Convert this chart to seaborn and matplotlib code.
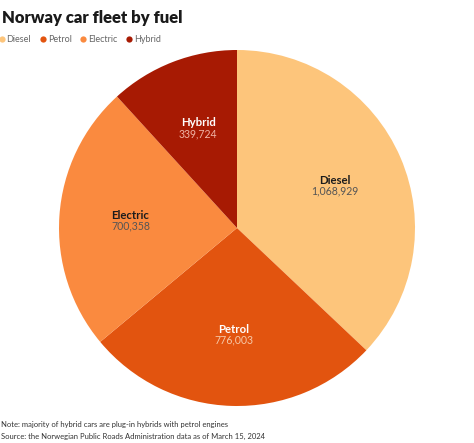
import matplotlib
matplotlib.use("Agg")
import matplotlib.pyplot as plt
from matplotlib.lines import Line2D
import seaborn as sns

categories = ["Diesel", "Petrol", "Electric", "Hybrid"]
values = [1068929, 776003, 700358, 339724]
value_labels = ["1,068,929", "776,003", "700,358", "339,724"]
colors = ["#fdc57b", "#e2540f", "#fa8a3f", "#a71a03"]
name_colors = ["#1c1c1c", "#ffffff", "#1c1c1c", "#ffffff"]
value_colors = ["#555555", "#f6c9a9", "#555555", "#f0b4a6"]

sns.set_theme(style="white")
plt.rcParams['font.family'] = ['Lato', 'DejaVu Sans']

W, H = 474, 443
fig = plt.figure(figsize=(W / 100, H / 100), dpi=100)
fig.patch.set_facecolor("white")

cx, cy, r = 237, 228, 178
ax = fig.add_axes([(cx - r) / W, 1 - (cy + r) / H, 2 * r / W, 2 * r / H])

wedges, texts, autotexts = ax.pie(
    values, colors=colors, startangle=90, counterclock=False,
    labels=categories, labeldistance=0.6,
    autopct="%1.1f", pctdistance=0.6,
    wedgeprops=dict(linewidth=0),
)
ax.set_xlim(-1, 1)
ax.set_ylim(-1, 1)
ax.axis("off")

for i, (t, a) in enumerate(zip(texts, autotexts)):
    t.set_ha("center"); t.set_va("bottom")
    t.set_fontsize(8.2); t.set_fontweight("bold"); t.set_color(name_colors[i])
    a.set_text(value_labels[i])
    a.set_ha("center"); a.set_va("top")
    a.set_fontsize(7.6); a.set_color(value_colors[i])

fig.text(2 / W, 1 - 18 / H, "Norway car fleet by fuel", fontsize=12,
         fontweight="heavy", color="#1a1a1a", ha="left", va="center")

handles = [Line2D([0], [0], marker="o", linestyle="", markersize=4.5,
                  markerfacecolor=c, markeredgewidth=0) for c in colors]
leg = fig.legend(handles, categories, loc="center left",
                 bbox_to_anchor=(-2 / W, 1 - 40 / H), ncol=4, frameon=False,
                 fontsize=6.5, handletextpad=0.15, columnspacing=0.9,
                 handlelength=0.8, borderaxespad=0, borderpad=0)
for t in leg.get_texts():
    t.set_color("#666666")

fig.text(1 / W, 1 - 424 / H,
         "Note: majority of hybrid cars are plug-in hybrids with petrol engines",
         fontsize=5.5, color="#333333", ha="left", va="center")
fig.text(1 / W, 1 - 436 / H,
         "Source: the Norwegian Public Roads Administration data as of March 15, 2024",
         fontsize=5.5, color="#333333", ha="left", va="center")

fig.savefig("out.png", dpi=100, facecolor="white")
